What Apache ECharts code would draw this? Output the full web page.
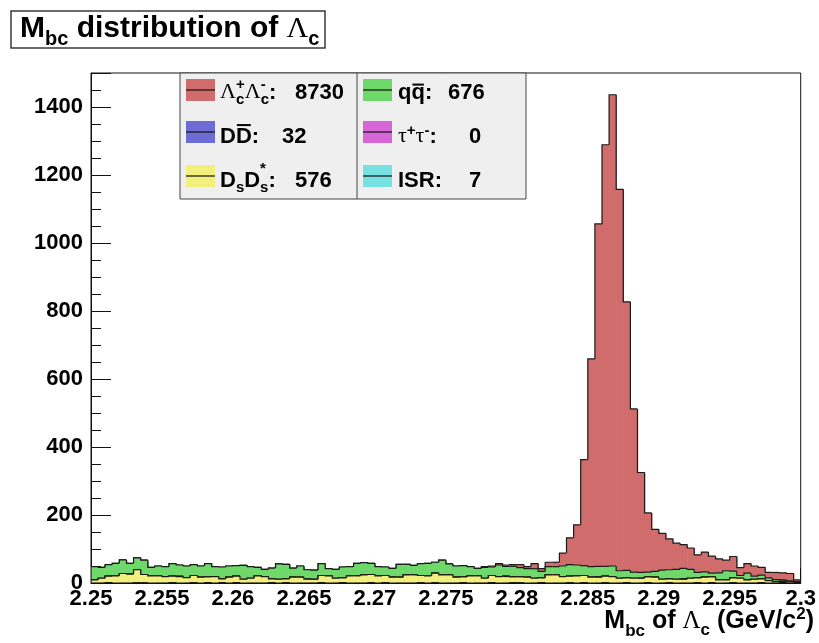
<!DOCTYPE html>
<html>
<head>
<meta charset="utf-8">
<script src="https://cdn.jsdelivr.net/npm/echarts@6/dist/echarts.min.js"></script>
<style>
  html, body { margin: 0; padding: 0; background: #fff; }
  #chart { width: 819px; height: 643px; }
</style>
</head>
<body>
<div id="chart"></div>
<script>
// Histogram binning: 100 bins of 0.5 MeV between 2.25 and 2.30 GeV/c^2
const xMin = 2.25;
const xMax = 2.30;
const binWidth = 0.0005;
const yMax = 1500;

const xTickLabels = ['2.25', '2.255', '2.26', '2.265', '2.27', '2.275', '2.28', '2.285', '2.29', '2.295', '2.3'];
const yTickLabels = ['0', '200', '400', '600', '800', '1000', '1200', '1400'];

// Entries per bin for each MC component
const lcLc = [
  0, 0, 0, 0, 0, 0, 0, 0, 0, 0,
  0, 0, 0, 0, 0, 0, 0, 0, 0, 0,
  0, 0, 0, 0, 0, 0, 0, 0, 0, 0,
  0, 0, 0, 0, 0, 0, 0, 0, 0, 0,
  0, 0, 0, 0, 0, 0, 0, 0, 0, 0,
  0, 0, 0, 0, 0, 2, 3, 4, 4, 5,
  9, 6, 15, 8, 13, 13, 38, 79, 118, 312,
  611, 1007, 1240, 1386, 1122, 790, 480, 294, 174, 124,
  108, 91, 77, 70, 63, 52, 58, 50, 41, 31,
  43, 23, 28, 30, 23, 16, 21, 21, 22, 5
];
const dd = [
  0, 0, 1, 0, 0, 0, 1, 1, 0, 0,
  0, 1, 0, 0, 1, 0, 1, 0, 1, 0,
  1, 0, 0, 0, 0, 1, 0, 1, 0, 0,
  0, 0, 1, 0, 0, 1, 0, 0, 0, 1,
  0, 1, 0, 0, 0, 0, 1, 0, 1, 0,
  0, 0, 1, 0, 0, 0, 1, 0, 0, 1,
  1, 0, 0, 1, 0, 0, 0, 1, 0, 1,
  0, 0, 1, 0, 0, 1, 0, 0, 1, 0,
  0, 1, 0, 0, 0, 1, 0, 1, 0, 0,
  1, 0, 0, 0, 1, 0, 0, 1, 0, 0
];
const dsDs = [
  9, 14, 19, 21, 28, 26, 38, 24, 21, 21,
  19, 19, 19, 16, 21, 17, 17, 19, 11, 17,
  19, 11, 14, 21, 19, 11, 11, 11, 17, 17,
  11, 11, 21, 21, 14, 14, 21, 21, 24, 24,
  21, 21, 17, 17, 24, 24, 21, 21, 28, 24,
  24, 17, 17, 21, 21, 14, 21, 19, 19, 17,
  17, 17, 14, 14, 24, 24, 19, 19, 21, 21,
  17, 17, 19, 19, 14, 14, 14, 14, 17, 17,
  11, 11, 11, 11, 14, 14, 17, 17, 9, 9,
  14, 14, 9, 11, 11, 7, 4, 4, 3, 2
];
const qq = [
  39, 32, 34, 37, 40, 32, 35, 42, 25, 29,
  29, 37, 33, 34, 32, 33, 39, 29, 35, 33,
  31, 41, 34, 25, 21, 32, 45, 43, 27, 33,
  27, 27, 35, 21, 26, 32, 27, 37, 36, 33,
  27, 25, 26, 38, 30, 28, 35, 37, 32, 43,
  32, 33, 33, 27, 22, 32, 25, 34, 29, 31,
  27, 25, 28, 19, 24, 24, 31, 34, 32, 29,
  31, 31, 29, 31, 22, 22, 18, 17, 14, 17,
  27, 27, 29, 31, 26, 16, 16, 11, 21, 27,
  20, 8, 19, 9, 11, 8, 6, 4, 3, 2
];
const tauTau = [
  0, 0, 0, 0, 0, 0, 0, 0, 0, 0,
  0, 0, 0, 0, 0, 0, 0, 0, 0, 0,
  0, 0, 0, 0, 0, 0, 0, 0, 0, 0,
  0, 0, 0, 0, 0, 0, 0, 0, 0, 0,
  0, 0, 0, 0, 0, 0, 0, 0, 0, 0,
  0, 0, 0, 0, 0, 0, 0, 0, 0, 0,
  0, 0, 0, 0, 0, 0, 0, 0, 0, 0,
  0, 0, 0, 0, 0, 0, 0, 0, 0, 0,
  0, 0, 0, 0, 0, 0, 0, 0, 0, 0,
  0, 0, 0, 0, 0, 0, 0, 0, 0, 0
];
const isr = [
  0, 0, 0, 0, 0, 0, 0, 0, 0, 0,
  0, 0, 1, 0, 0, 0, 0, 0, 0, 0,
  0, 0, 0, 0, 0, 0, 0, 0, 0, 0,
  1, 0, 0, 0, 0, 0, 0, 0, 0, 0,
  0, 0, 0, 0, 1, 0, 0, 0, 0, 0,
  0, 0, 0, 0, 0, 0, 0, 0, 1, 0,
  0, 0, 0, 0, 0, 0, 0, 0, 0, 0,
  0, 1, 0, 0, 0, 0, 0, 0, 0, 0,
  0, 0, 0, 1, 0, 0, 0, 0, 0, 0,
  0, 0, 1, 0, 0, 0, 0, 0, 0, 0
];

// Event counts quoted in the legend
const legendCounts = [8730, 32, 576, 676, 0, 7];

const colors = {
  lcLc: '#d06c6c',
  dd: '#6c6cd4',
  dsDs: '#f3ef7c',
  qq: '#6fd86a',
  tauTau: '#d766d7',
  isr: '#78e2e2'
};

// Stack order, bottom to top
const stack = [
  { key: 'dd', values: dd },
  { key: 'dsDs', values: dsDs },
  { key: 'isr', values: isr },
  { key: 'tauTau', values: tauTau },
  { key: 'qq', values: qq },
  { key: 'lcLc', values: lcLc }
];

const SANS = '"Liberation Sans", Arial, Helvetica, sans-serif';
const SERIF = '"Liberation Serif", "DejaVu Serif", serif';

// Build one custom series per stacked layer
const nBins = lcLc.length;
const running = new Array(nBins).fill(0);
const layerSeries = stack.map(layer => {
  const data = [];
  const tops = [];
  for (let i = 0; i < nBins; i++) {
    const top = running[i] + layer.values[i];
    tops.push(top);
    running[i] = top;
  }
  for (let i = 0; i < nBins; i++) {
    const lo = xMin + i * binWidth;
    const hi = xMin + (i + 1) * binWidth;
    const base = tops[i] - layer.values[i];
    const prevTop = i === 0 ? 0 : tops[i - 1];
    data.push([lo, hi, base, tops[i], prevTop, i === nBins - 1 ? 1 : 0]);
  }
  return {
    type: 'custom',
    name: layer.key,
    clip: true,
    silent: true,
    data: data,
    encode: { x: [0, 1], y: [2, 3] },
    renderItem: function (params, api) {
      const lo = api.value(0), hi = api.value(1);
      const base = api.value(2), top = api.value(3);
      const prevTop = api.value(4), last = api.value(5);
      const pTL = api.coord([lo, top]);
      const pBR = api.coord([hi, base]);
      const pPrev = api.coord([lo, prevTop]);
      const pZero = api.coord([hi, 0]);
      const children = [];
      if (pBR[1] - pTL[1] > 0.01) {
        children.push({
          type: 'rect',
          shape: { x: pTL[0], y: pTL[1], width: pBR[0] - pTL[0] + 0.6, height: pBR[1] - pTL[1] },
          style: { fill: colors[layer.key] }
        });
      }
      const pts = [[pTL[0], pPrev[1]], [pTL[0], pTL[1]], [pBR[0], pTL[1]]];
      if (last) pts.push([pBR[0], pZero[1]]);
      children.push({
        type: 'polyline',
        shape: { points: pts },
        style: { stroke: '#1a1a1a', lineWidth: 1.2, fill: null }
      });
      return { type: 'group', children: children };
    }
  };
});
// Draw the highest cumulative layer first, lower ones on top of it
layerSeries.reverse();

// Text runs with sub/superscripts, laid out with measured widths
const measureCtx = document.createElement('canvas').getContext('2d');
function fontOf(r) {
  return (r.serif ? 'normal ' : 'bold ') + r.size + 'px ' + (r.serif ? SERIF : SANS);
}
function widthOf(r) {
  measureCtx.font = fontOf(r);
  return measureCtx.measureText(r.text).width;
}
function textRuns(list, x, baseline, anchorRight) {
  let cursor = 0, prevX = 0, prevW = 0;
  const placed = [];
  list.forEach(r => {
    const w = widthOf(r);
    let px;
    if (r.at != null) {
      px = r.at - x;
      cursor = px + w; prevX = px; prevW = w;
    } else if (r.stack) {
      px = prevX;
      prevW = Math.max(prevW, w);
      cursor = prevX + prevW;
    } else {
      px = cursor; cursor += w; prevX = px; prevW = w;
    }
    placed.push({ r: r, px: px, w: w });
  });
  const offset = anchorRight ? x - cursor : x;
  const els = [];
  placed.forEach(p => {
    const r = p.r;
    const base = baseline - (r.rise || 0);
    els.push({
      type: 'text',
      z: 100,
      x: offset + p.px,
      y: base - 0.34 * r.size,
      style: {
        text: r.text,
        font: fontOf(r),
        fill: '#000',
        align: 'left',
        verticalAlign: 'middle',
        textAlign: 'left',
        textVerticalAlign: 'middle'
      }
    });
    if (r.over) {
      const oy = base - (r.overAt || 0.86) * r.size;
      els.push({
        type: 'line',
        z: 100,
        shape: { x1: offset + p.px + 1, y1: oy, x2: offset + p.px + p.w - 1, y2: oy },
        style: { stroke: '#000', lineWidth: 2 }
      });
    }
  });
  return els;
}

const T = 30, TS = 20;     // title sizes
const A = 25, AS = 17;     // axis title sizes
const L = 22, LS = 15;     // legend sizes

const titleRuns = [
  { text: 'M', size: T },
  { text: 'bc', size: TS, rise: -7 },
  { text: ' distribution of ', size: T },
  { text: 'Λ', size: T, serif: true },
  { text: 'c', size: TS, rise: -7 }
];
const axisTitleRuns = [
  { text: 'M', size: A },
  { text: 'bc', size: AS, rise: -7 },
  { text: ' of ', size: A },
  { text: 'Λ', size: A, serif: true },
  { text: 'c', size: AS, rise: -6 },
  { text: ' (GeV/c', size: A },
  { text: '2', size: AS, rise: 10 },
  { text: ')', size: A }
];

// Legend rows: [layer key, label runs]
const legendRows = [
  ['lcLc', [
    { text: 'Λ', size: L, serif: true },
    { text: 'c', size: LS, rise: -5 }, { text: '+', size: LS, rise: 10, stack: true },
    { text: 'Λ', size: L, serif: true },
    { text: 'c', size: LS, rise: -5 }, { text: '-', size: LS, rise: 10, stack: true },
    { text: ':', size: L },
    { text: String(legendCounts[0]), size: L, at: 295 }
  ]],
  ['dd', [
    { text: 'D', size: L },
    { text: 'D', size: L, over: true, overAt: 0.86 },
    { text: ':', size: L },
    { text: String(legendCounts[1]), size: L, at: 282 }
  ]],
  ['dsDs', [
    { text: 'D', size: L },
    { text: 's', size: LS, rise: -5 },
    { text: 'D', size: L },
    { text: 's', size: LS, rise: -5 }, { text: '*', size: LS, rise: 14, stack: true },
    { text: ':', size: L },
    { text: String(legendCounts[2]), size: L, at: 295 }
  ]],
  ['qq', [
    { text: 'q', size: L },
    { text: 'q', size: L, over: true, overAt: 0.7 },
    { text: ':', size: L },
    { text: String(legendCounts[3]), size: L, at: 448 }
  ]],
  ['tauTau', [
    { text: 'τ', size: L, serif: true },
    { text: '+', size: LS, rise: 8 },
    { text: 'τ', size: L, serif: true },
    { text: '-', size: LS, rise: 8 },
    { text: ':', size: L },
    { text: String(legendCounts[4]), size: L, at: 469 }
  ]],
  ['isr', [
    { text: 'ISR:', size: L },
    { text: String(legendCounts[5]), size: L, at: 469 }
  ]]
];

const graphics = [];
// title box
graphics.push({
  type: 'rect', z: 100,
  shape: { x: 11, y: 11, width: 314, height: 37 },
  style: { fill: '#fff', stroke: '#3a3a3a', lineWidth: 1.5 }
});
graphics.push(...textRuns(titleRuns, 20, 39, false));
// axis title
graphics.push(...textRuns(axisTitleRuns, 814, 630, true));
// legend panel
graphics.push({
  type: 'rect', z: 99,
  shape: { x: 180, y: 73, width: 346, height: 126 },
  style: { fill: '#efefef', stroke: '#444', lineWidth: 1 }
});
graphics.push({
  type: 'line', z: 99,
  shape: { x1: 357, y1: 73, x2: 357, y2: 199 },
  style: { stroke: '#444', lineWidth: 1 }
});
const colX = [186, 363];
const textX = [220, 398];
const rowBoxY = [79, 121, 165];
const rowBase = [100, 144, 188];
legendRows.forEach((row, i) => {
  const col = Math.floor(i / 3), r = i % 3;
  const bx = colX[col], by = rowBoxY[r];
  graphics.push({
    type: 'rect', z: 100,
    shape: { x: bx, y: by, width: 29, height: 22 },
    style: { fill: colors[row[0]] }
  });
  graphics.push({
    type: 'line', z: 100,
    shape: { x1: bx, y1: by + 11, x2: bx + 29, y2: by + 11 },
    style: { stroke: '#111', lineWidth: 1.2 }
  });
  graphics.push(...textRuns(row[1], textX[col], rowBase[r], false));
});

const axisFont = { fontSize: 22, fontWeight: 'bold', color: '#000', fontFamily: SANS };

const option = {
  animation: false,
  backgroundColor: '#fff',
  grid: { left: 91, right: 18, top: 73, bottom: 60, show: true, borderColor: '#111', borderWidth: 1, backgroundColor: '#fff' },
  xAxis: [
    {
      type: 'value', min: xMin, max: xMax, interval: 0.005,
      axisLine: { show: true, onZero: false, lineStyle: { color: '#111', width: 1 } },
      axisTick: { show: true, inside: true, length: 15, lineStyle: { color: '#111' } },
      axisLabel: Object.assign({
        margin: 5,
        formatter: v => {
          const k = Math.round((v - xMin) / 0.005);
          return Math.abs(xMin + k * 0.005 - v) < 1e-9 ? (xTickLabels[k] || '') : '';
        }
      }, axisFont),
      splitLine: { show: false }
    },
    {
      type: 'value', min: xMin, max: xMax, interval: 0.001, position: 'bottom',
      axisLine: { show: false },
      axisTick: { show: true, inside: true, length: 8, lineStyle: { color: '#111' } },
      axisLabel: { show: false },
      splitLine: { show: false }
    }
  ],
  yAxis: [
    {
      type: 'value', min: 0, max: yMax, interval: 200,
      axisLine: { show: true, onZero: false, lineStyle: { color: '#111', width: 1 } },
      axisTick: { show: true, inside: true, length: 20, lineStyle: { color: '#111' } },
      axisLabel: Object.assign({
        margin: 8,
        formatter: v => {
          const k = Math.round(v / 200);
          return Math.abs(k * 200 - v) < 1e-6 ? (yTickLabels[k] || '') : '';
        }
      }, axisFont),
      splitLine: { show: false }
    },
    {
      type: 'value', min: 0, max: yMax, interval: 50, position: 'left',
      axisLine: { show: false },
      axisTick: { show: true, inside: true, length: 10, lineStyle: { color: '#111' } },
      axisLabel: { show: false },
      splitLine: { show: false }
    }
  ],
  series: layerSeries,
  graphic: { elements: graphics }
};

const chart = echarts.init(document.getElementById('chart'), null, { renderer: 'canvas' });
chart.setOption(option);
</script>
</body>
</html>
